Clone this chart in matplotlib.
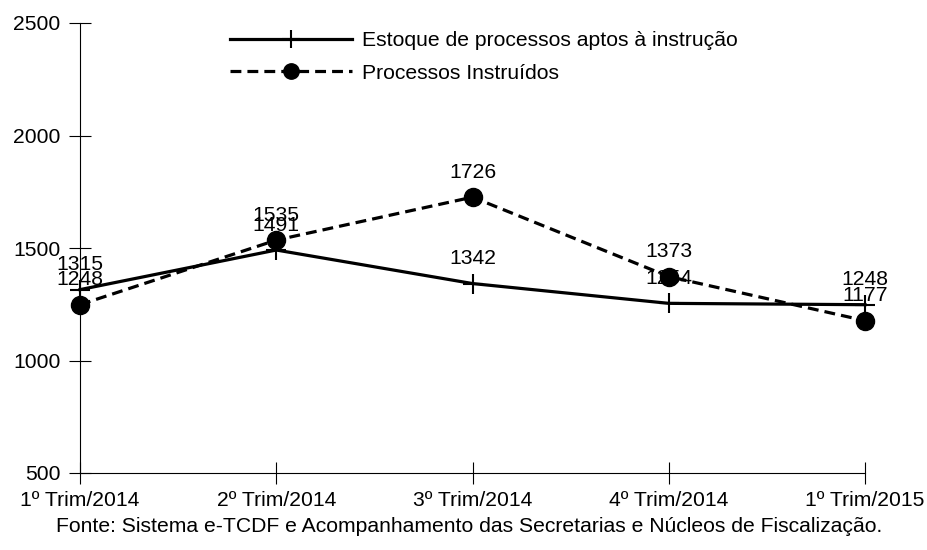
import matplotlib
matplotlib.use("Agg")
import matplotlib.pyplot as plt

plt.rcParams['font.family'] = ['Liberation Sans', 'DejaVu Sans']

trimestres = ["1º Trim/2014", "2º Trim/2014", "3º Trim/2014", "4º Trim/2014", "1º Trim/2015"]
estoque = [1315, 1491, 1342, 1254, 1248]
instruidos = [1248, 1535, 1726, 1373, 1177]

fs = 15.2
fig = plt.figure(figsize=(9.28, 5.5), dpi=100)
ax = fig.add_axes([80 / 928, 77 / 550, 785 / 928, 450 / 550])

x = range(len(trimestres))
ax.plot(x, estoque, color='black', lw=2.3, marker='+', ms=15, mew=1.5,
        label="Estoque de processos aptos à instrução", clip_on=False, zorder=3)
ax.plot(x, instruidos, color='black', lw=2.3, ls=(0, (3.4, 1.9)), marker='o', ms=13,
        label="Processos Instruídos", clip_on=False, zorder=3)

# rótulos de dados acima dos pontos
for xi, v in zip(x, estoque):
    ax.annotate(str(v), (xi, v), xytext=(0, 11), textcoords='offset points',
                ha='center', va='bottom', fontsize=fs)
for xi, v in zip(x, instruidos):
    ax.annotate(str(v), (xi, v), xytext=(0, 11), textcoords='offset points',
                ha='center', va='bottom', fontsize=fs)

ax.set_xlim(0, 4)
ax.set_ylim(500, 2500)
ax.set_yticks([500, 1000, 1500, 2000, 2500])
ax.set_xticks(list(x))
ax.set_xticklabels(trimestres)
ax.tick_params(axis='both', direction='inout', length=16, width=0.8, labelsize=fs)
ax.tick_params(axis='y', pad=6)
ax.tick_params(axis='x', pad=5)
for s in ['top', 'right']:
    ax.spines[s].set_visible(False)
for s in ['left', 'bottom']:
    ax.spines[s].set_linewidth(0.8)

ax.legend(loc='upper left', bbox_to_anchor=(230 / 928, 1 - 31 / 550), bbox_transform=fig.transFigure,
          frameon=False, fontsize=fs, borderaxespad=0, borderpad=0,
          handlelength=5.8, handletextpad=0.45, labelspacing=0.65, markerscale=0.85)

fig.text(469 / 928, 1 - 527 / 550,
         "Fonte: Sistema e-TCDF e Acompanhamento das Secretarias e Núcleos de Fiscalização.",
         ha='center', va='center', fontsize=fs)

fig.savefig("out.png", dpi=100)
